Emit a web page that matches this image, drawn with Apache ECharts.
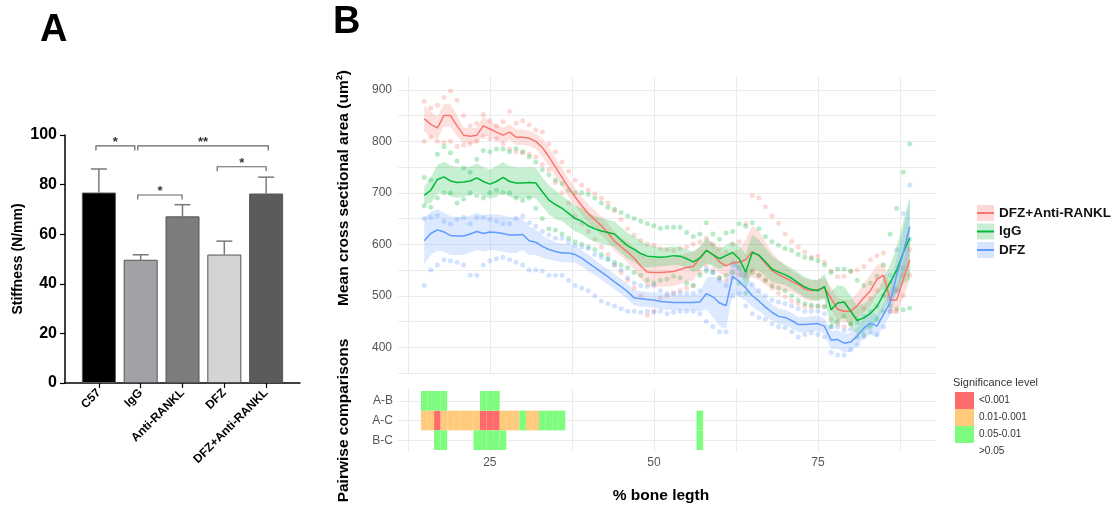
<!DOCTYPE html>
<html>
<head>
<meta charset="utf-8">
<script src="https://cdn.jsdelivr.net/npm/echarts@6/dist/echarts.min.js"></script>
<style>
  html, body { margin: 0; padding: 0; background: #fff; }
  #chart { width: 1117px; height: 510px; }
</style>
</head>
<body>
<div id="chart"></div>
<script>
// ---- panel A: stiffness bars ----
const groupsA = ['C57', 'IgG', 'Anti-RANKL', 'DFZ', 'DFZ+Anti-RANKL'];
const stiffness = [76.8, 49.7, 67.2, 51.8, 76.4];
const stiffnessErr = [86.3, 51.7, 71.9, 57.2, 83.0];
const barColors = ['#000000', '#a1a1a6', '#7c7c7c', '#d4d4d4', '#5b5b5b'];
// [from, to, height, label]
const brackets = [[-0.07, 0.86, 95.6, '*'], [0.93, 4.05, 95.6, '**'], [0.93, 1.99, 75.8, '*'], [2.83, 4.0, 87.2, '*']];

// ---- panel B: cross sectional area along the bone ----
const pct = [15,16,17,18,19,20,21,22,23,24,25,26,27,28,29,30,31,32,33,34,35,36,37,38,39,40,41,42,43,44,
  45,46,47,48,49,50,51,52,53,54,55,56,57,58,59,60,61,62,63,64,65,66,67,68,69,70,71,72,73,74,
  75,76,77,78,79,80,81,82,83,84,85,86,87,88,89];
const groupNames = ['DFZ+Anti-RANKL', 'IgG', 'DFZ'];

const meanRed = [
  844,833,826,850,850,830,812,810,812,830,
  824,818,812,818,808,808,806,800,788,770,
  750,730,710,692,675,660,648,636,622,606,
  595,585,573,558,546,545,545,546,547,551,
  555,557,574,588,580,566,558,564,565,570,
  586,578,563,549,541,535,528,522,513,510,
  512,516,495,474,470,470,481,496,510,532,
  540,492,492,531,570];
const meanGreen = [
  695,705,726,731,723,720,721,723,729,722,
  717,722,730,722,719,719,720,719,702,686,
  677,670,660,650,645,636,630,626,623,620,
  608,597,590,582,577,576,575,576,578,577,
  572,566,573,588,580,572,578,584,572,546,
  584,579,566,552,546,541,534,525,517,512,
  510,518,473,486,488,470,452,457,466,479,
  503,525,550,583,612];
const meanBlue = [
  607,621,628,624,617,616,616,620,625,621,
  624,623,621,618,618,619,607,604,596,590,
  586,583,583,580,573,564,555,546,537,527,
  518,508,496,494,493,492,489,488,487,487,
  487,487,488,504,498,486,481,538,528,515,
  500,490,478,468,460,458,452,444,444,445,
  446,441,414,415,408,410,422,437,447,441,
  464,486,540,583,634];

// half width of the shaded band
const hwRed = [
  25,25,22,22,22,20,15,15,15,18,
  15,15,15,15,15,15,15,15,18,18,
  18,18,18,18,18,18,18,18,18,18,
  18,20,22,25,28,28,28,28,28,28,
  28,28,22,22,22,22,22,22,25,40,
  50,48,42,35,30,25,20,20,20,20,
  20,20,22,22,22,22,25,28,30,28,
  25,25,28,35,40];
const hwGreen = [
  18,25,28,30,30,30,28,28,28,28,
  28,30,30,30,30,30,30,30,28,28,
  28,25,25,25,25,25,25,25,25,25,
  25,25,25,25,22,20,18,18,18,18,
  18,20,22,25,22,20,20,22,25,35,
  35,30,28,25,22,20,20,20,20,20,
  20,25,35,35,30,30,28,28,28,28,
  30,35,45,60,80];
const hwBlue = [
  45,42,40,38,38,37,37,36,36,35,
  35,35,35,35,35,30,28,25,22,20,
  18,18,18,16,16,16,15,15,15,15,
  15,15,15,15,15,15,15,15,15,15,
  15,15,18,30,40,45,45,35,30,25,
  22,20,18,16,15,15,15,15,15,15,
  15,15,18,18,18,18,18,20,22,22,
  22,25,35,45,55];

// individual samples (upper / lower traces of the dots)
const redHi = [
  878,865,870,885,898,880,850,830,835,852,
  840,830,838,858,835,840,832,822,818,795,
  780,760,742,725,715,705,698,690,680,665,
  648,630,618,608,600,598,592,590,588,592,
  595,600,605,612,600,592,585,600,605,640,
  695,690,673,655,641,620,606,595,585,575,
  577,565,548,537,538,547,550,557,570,578,
  583,525,512,540,590];
const redLo = [
  800,808,800,798,800,790,793,795,800,810,
  805,805,795,785,780,778,775,770,755,745,
  720,700,680,655,640,625,610,595,580,560,
  545,530,515,500,462,470,495,500,505,510,
  515,520,545,560,550,535,530,535,540,545,
  550,540,530,515,505,498,490,485,480,478,
  480,480,455,445,440,445,455,475,495,510,
  500,470,470,500,540];
const greenHi = [
  730,725,775,790,778,762,748,740,765,782,
  780,785,785,780,786,780,770,760,745,735,
  725,718,705,700,700,697,690,680,672,668,
  662,655,650,645,640,636,631,633,633,633,
  623,615,620,642,620,610,622,625,640,635,
  642,630,615,605,598,592,588,580,575,572,
  568,560,545,552,552,548,530,520,525,538,
  560,620,670,740,795];
const greenLo = [
  675,672,690,700,700,680,688,700,695,690,
  700,705,700,700,690,685,690,670,650,630,
  628,620,612,605,600,595,590,580,572,565,
  560,555,545,540,530,525,530,532,538,535,
  525,520,540,548,545,535,540,545,525,505,
  545,540,530,520,515,510,500,492,485,482,
  480,478,440,450,460,445,420,425,440,455,
  470,480,475,473,476];
const blueHi = [
  650,652,656,645,640,648,652,640,652,652,
  648,645,640,640,650,655,642,635,625,618,
  612,612,605,598,595,592,580,575,570,560,
  550,535,525,520,518,520,510,505,505,505,
  505,505,510,552,545,530,520,560,555,540,
  522,510,500,492,488,485,480,475,470,470,
  470,465,440,440,432,435,448,460,470,480,
  500,540,590,660,715];
const blueLo = [
  520,550,560,570,568,565,560,540,540,560,
  568,572,575,570,565,560,550,550,548,540,
  540,540,530,520,515,510,500,490,485,480,
  475,470,470,468,470,468,470,465,468,470,
  470,470,465,450,440,430,430,500,505,480,
  465,458,455,445,440,438,430,420,425,428,
  425,420,390,385,385,395,405,420,430,425,
  440,470,510,555,610];

// ---- pairwise comparison tiles: [pct, row, level] ----
const pairLabels = ['A-B', 'A-C', 'B-C'];
const sigLevels = ['<0.001', '0.01-0.001', '0.05-0.01', '>0.05'];
const sigCells = [
  [15,1,2],[16,1,2],[17,1,2],[18,1,2],[24,1,2],[25,1,2],[26,1,2],
  [15,2,1],[16,2,1],[17,2,0],[18,2,1],[19,2,1],[20,2,1],[21,2,1],[22,2,1],[23,2,1],
  [24,2,0],[25,2,0],[26,2,0],[27,2,1],[28,2,1],[29,2,1],[30,2,2],[31,2,1],[32,2,1],
  [33,2,2],[34,2,2],[35,2,2],[36,2,2],[57,2,2],
  [17,3,2],[18,3,2],[23,3,2],[24,3,2],[25,3,2],[26,3,2],[27,3,2],[57,3,2]
];

const FONT = '"Liberation Sans", Arial, sans-serif';
const lineColors = ['#F8766D', '#00BA38', '#619CFF'];
const keyFills = ['#fcd9d6', '#c8edd3', '#d8e5ff'];
const sigColors = ['#ff6b6b', '#ffca7c', '#7dfc7d', '#ffffff'];
const gridGrey = '#ebebeb';
const tickGrey = '#555';

const chart = echarts.init(document.getElementById('chart'));

function renderErrorBar(params, api) {
  const base = api.coord([api.value(0), api.value(1)]);
  const top = api.coord([api.value(0), api.value(2)]);
  const st = { stroke: '#7a7a7a', lineWidth: 1.5 };
  return { type: 'group', children: [
    { type: 'line', shape: { x1: top[0], y1: base[1], x2: top[0], y2: top[1] }, style: st },
    { type: 'line', shape: { x1: top[0] - 8, y1: top[1], x2: top[0] + 8, y2: top[1] }, style: st }
  ]};
}

function renderBracket(params, api) {
  const x1 = api.value(0), x2 = api.value(1), y = api.value(2);
  const pts = [api.coord([x1, y - 1.8]), api.coord([x1, y]), api.coord([x2, y]), api.coord([x2, y - 1.8])];
  const mid = api.coord([(x1 + x2) / 2, y]);
  return { type: 'group', children: [
    { type: 'polyline', shape: { points: pts }, style: { stroke: '#666', lineWidth: 1.2, fill: null } },
    { type: 'text', x: mid[0], y: mid[1] + 3, style: { text: brackets[params.dataIndex][3], align: 'center', verticalAlign: 'bottom', font: 'bold 13px ' + FONT, fill: '#333' } }
  ]};
}

function renderTile(params, api) {
  const x = api.value(0), r = api.value(1);
  const p0 = api.coord([x - 0.5, r - 0.5]);
  const p1 = api.coord([x + 0.5, r + 0.5]);
  return {
    type: 'rect',
    shape: { x: Math.min(p0[0], p1[0]), y: Math.min(p0[1], p1[1]), width: Math.abs(p1[0] - p0[0]), height: Math.abs(p1[1] - p0[1]) },
    style: { fill: api.visual('color') }
  };
}

// one polygon for the whole band, drawn from the first item
function bandRenderer(rows, color) {
  return function (params, api) {
    if (params.dataIndex !== 0) return null;
    const upper = rows.map(r => api.coord([r[0], r[2]]));
    const lower = rows.map(r => api.coord([r[0], r[1]])).reverse();
    return { type: 'polygon', shape: { points: upper.concat(lower) }, style: { fill: color, opacity: 0.22 } };
  };
}

const series = [];

// panel A
series.push({
  type: 'bar', xAxisIndex: 0, yAxisIndex: 0, barWidth: 34,
  itemStyle: { borderColor: '#555', borderWidth: 1 },
  data: stiffness.map((v, i) => ({ value: [i, v], itemStyle: { color: barColors[i] } }))
});
series.push({
  type: 'custom', xAxisIndex: 0, yAxisIndex: 0, renderItem: renderErrorBar, silent: true,
  data: stiffness.map((v, i) => [i, v, stiffnessErr[i]])
});
series.push({
  type: 'custom', xAxisIndex: 0, yAxisIndex: 0, renderItem: renderBracket, silent: true,
  data: brackets.map(b => [b[0], b[1], b[2]])
});

// panel B
const means = [meanRed, meanGreen, meanBlue];
const halfW = [hwRed, hwGreen, hwBlue];
const hiDots = [redHi, greenHi, blueHi];
const loDots = [redLo, greenLo, blueLo];

groupNames.forEach((name, g) => {
  series.push({
    type: 'line', name: name, xAxisIndex: 1, yAxisIndex: 1, z: 4,
    symbol: 'none', lineStyle: { color: lineColors[g], width: 1.5 }, itemStyle: { color: lineColors[g] },
    data: pct.map((x, i) => [x, means[g][i]])
  });
});
groupNames.forEach((name, g) => {
  series.push({
    type: 'scatter', name: name, xAxisIndex: 1, yAxisIndex: 1, z: 1, silent: true,
    symbolSize: 5, itemStyle: { color: lineColors[g], opacity: 0.28 },
    data: pct.map((x, i) => [x, hiDots[g][i]]).concat(pct.map((x, i) => [x, loDots[g][i]]))
  });
  const rows = pct.map((x, i) => [x, means[g][i] - halfW[g][i], means[g][i] + halfW[g][i]]);
  series.push({
    type: 'custom', name: name, xAxisIndex: 1, yAxisIndex: 1, z: 2, silent: true,
    renderItem: bandRenderer(rows, lineColors[g]),
    encode: { x: 0, y: [1, 2] },
    data: rows
  });
});

// pairwise tiles, one series per significance level
sigLevels.forEach((lvl, k) => {
  series.push({
    type: 'custom', name: lvl, xAxisIndex: 2, yAxisIndex: 2, renderItem: renderTile,
    itemStyle: { color: sigColors[k] },
    data: sigCells.filter(c => c[2] === k).map(c => [c[0], c[1]])
  });
});

const option = {
  animation: false,
  textStyle: { fontFamily: FONT },
  title: [
    { text: 'A', left: 40, top: 12, padding: 0, textStyle: { fontSize: 38, fontWeight: 'bold', color: '#000', fontFamily: FONT } },
    { text: 'B', left: 333, top: 4, padding: 0, textStyle: { fontSize: 38, fontWeight: 'bold', color: '#000', fontFamily: FONT } },
    { text: 'Significance level', left: 953, top: 377, padding: 0, textStyle: { fontSize: 11, fontWeight: 'normal', color: '#333', fontFamily: FONT } }
  ],
  legend: [
    {
      orient: 'vertical', left: 977, top: 205, padding: 0, icon: 'rect',
      itemWidth: 17, itemHeight: 16, itemGap: 2.5,
      textStyle: { fontSize: 13.5, fontWeight: 'bold', color: '#111', lineHeight: 16, fontFamily: FONT },
      data: groupNames.map((n, i) => ({ name: n, itemStyle: { color: keyFills[i], borderWidth: 0, opacity: 1 } }))
    },
    {
      orient: 'vertical', left: 977, top: 205, padding: 0, icon: 'rect',
      itemWidth: 17, itemHeight: 2, itemGap: 2.5,
      textStyle: { fontSize: 13.5, fontWeight: 'bold', color: 'rgba(0,0,0,0)', lineHeight: 16, fontFamily: FONT },
      data: groupNames.map((n, i) => ({ name: n, itemStyle: { color: lineColors[i], borderWidth: 0, opacity: 1 } }))
    },
    {
      orient: 'vertical', left: 955, top: 392, padding: 0, icon: 'rect',
      itemWidth: 19, itemHeight: 17, itemGap: 0,
      textStyle: { fontSize: 10, color: '#333', fontFamily: FONT },
      data: sigLevels.map((n, k) => ({ name: n, itemStyle: { color: sigColors[k], borderWidth: 0, opacity: 1 } }))
    }
  ],
  grid: [
    { left: 65, top: 135, width: 235, height: 248 },
    { left: 398, top: 77, width: 538, height: 296 },
    { left: 398, top: 389, width: 538, height: 63 }
  ],
  xAxis: [
    {
      gridIndex: 0, type: 'value', min: -0.81, max: 4.81,
      axisLine: { show: true, onZero: false, lineStyle: { color: '#000', width: 1.5 } },
      axisTick: { show: true, customValues: [0, 1, 2, 3, 4], length: 5, lineStyle: { color: '#000', width: 1.2 } },
      axisLabel: { customValues: [0, 1, 2, 3, 4], rotate: 45, margin: 8, formatter: v => groupsA[Math.round(v)],
        color: '#000', fontWeight: 'bold', fontSize: 12, fontFamily: FONT },
      splitLine: { show: false }
    },
    {
      gridIndex: 1, type: 'value', min: 11, max: 93,
      axisLine: { show: false, onZero: false },
      axisTick: { show: false, customValues: [12.5, 25, 37.5, 50, 62.5, 75, 87.5] },
      axisLabel: { show: false },
      splitLine: { show: true, lineStyle: { color: gridGrey, width: 1 } }
    },
    {
      gridIndex: 2, type: 'value', min: 11, max: 93,
      axisLine: { show: false, onZero: false },
      axisTick: { show: false, customValues: [12.5, 25, 37.5, 50, 62.5, 75, 87.5] },
      axisLabel: { customValues: [25, 50, 75], color: tickGrey, fontSize: 12, margin: 5, fontFamily: FONT },
      splitLine: { show: true, lineStyle: { color: gridGrey, width: 1 } },
      name: '% bone legth', nameLocation: 'middle', nameGap: 36,
      nameTextStyle: { fontSize: 15.5, fontWeight: 'bold', color: '#000', padding: [0, 12, 0, 0], fontFamily: FONT }
    }
  ],
  yAxis: [
    {
      gridIndex: 0, type: 'value', min: 0, max: 100, interval: 20,
      axisLine: { show: true, onZero: false, lineStyle: { color: '#000', width: 1.5 } },
      axisTick: { show: true, length: 5, lineStyle: { color: '#000', width: 1.2 } },
      axisLabel: { fontSize: 16, fontWeight: 'bold', color: '#000', margin: 8, fontFamily: FONT },
      splitLine: { show: false },
      name: 'Stiffness (N/mm)', nameLocation: 'middle', nameGap: 40,
      nameTextStyle: { fontSize: 14, fontWeight: 'bold', color: '#000', fontFamily: FONT }
    },
    {
      gridIndex: 1, type: 'value', min: 350, max: 925,
      axisLine: { show: false, onZero: false },
      axisTick: { show: false, customValues: [350, 400, 450, 500, 550, 600, 650, 700, 750, 800, 850, 900] },
      axisLabel: { customValues: [400, 500, 600, 700, 800, 900], color: tickGrey, fontSize: 12, margin: 6, fontFamily: FONT },
      splitLine: { show: true, lineStyle: { color: gridGrey, width: 1 } },
      name: 'Mean cross sectional area (um²)', nameLocation: 'middle', nameGap: 46,
      nameTextStyle: { fontSize: 15.5, fontWeight: 'bold', color: '#000', padding: [0, 0, 0, 74], fontFamily: FONT }
    },
    {
      gridIndex: 2, type: 'value', min: 0.4, max: 3.6, inverse: true,
      axisLine: { show: false, onZero: false },
      axisTick: { show: false, customValues: [1, 2, 3] },
      axisLabel: { customValues: [1, 2, 3], formatter: v => pairLabels[Math.round(v) - 1], color: tickGrey, fontSize: 12, margin: 5, fontFamily: FONT },
      splitLine: { show: true, lineStyle: { color: gridGrey, width: 1 } },
      name: 'Pairwise comparisons', nameLocation: 'middle', nameGap: 46,
      nameTextStyle: { fontSize: 15.5, fontWeight: 'bold', color: '#000', fontFamily: FONT }
    }
  ],
  series: series
};

chart.setOption(option);
</script>
</body>
</html>
